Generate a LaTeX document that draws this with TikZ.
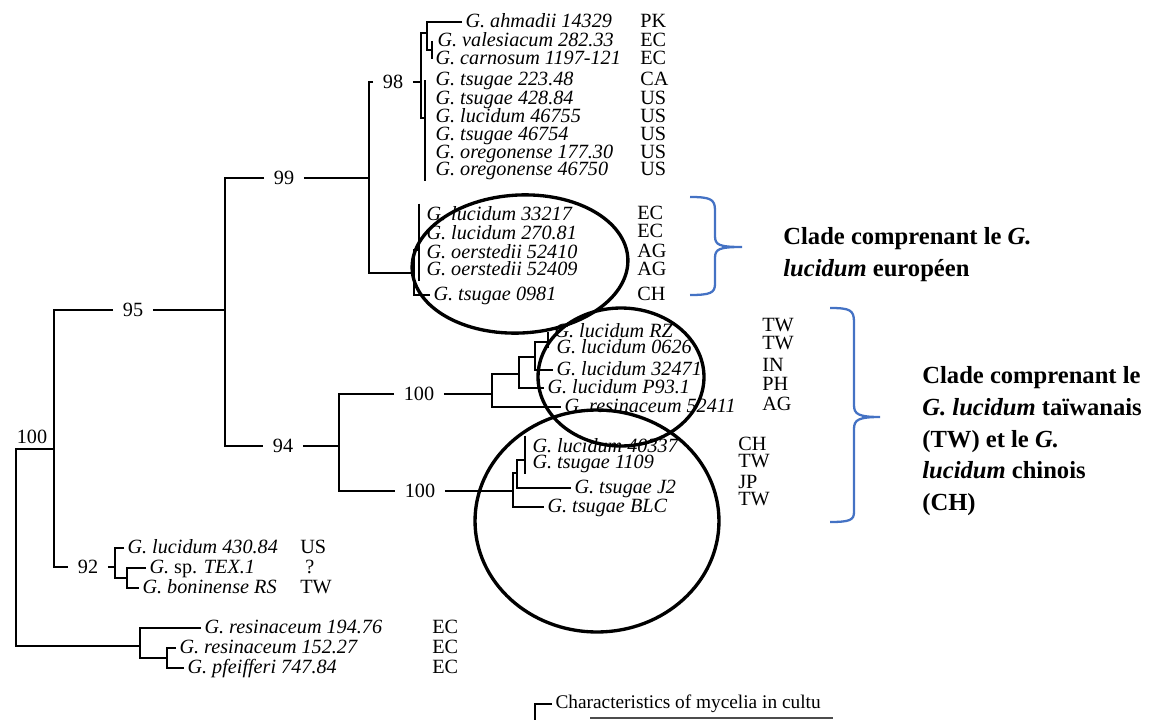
\documentclass[tikz,border=0pt]{standalone}
\usepackage{fontspec}
\setmainfont{Liberation Serif}
\definecolor{bleu}{RGB}{68,114,196}
\newcommand{\taxfont}{\fontsize{11.5pt}{13pt}\selectfont}
\newcommand{\cladefont}{\fontsize{14pt}{18.1pt}\selectfont}
\tikzset{
  every picture/.style={line join=miter},
  % branches de l'arbre
  branche/.style={line width=1.1pt},
  % feuilles et pays d'origine
  taxon/.style={anchor=west, font=\taxfont\itshape, inner sep=0pt, outer sep=2pt,
    text height=7.5pt, text depth=1.5pt},
  pays/.style={anchor=west, font=\taxfont, inner sep=0pt, text height=7.5pt, text depth=1.5pt},
  % valeurs de bootstrap, la branche s'arrete avant le chiffre
  boot/.style={font=\taxfont, inner sep=0pt, outer sep=5.5pt},
  % entourages et accolades
  cercle/.style={line width=1.9pt},
  accolade/.style={bleu, line width=1.3pt},
  clade/.style={anchor=north west, align=left, font=\cladefont\bfseries, inner sep=0pt},
}

\begin{document}
\begin{tikzpicture}[x=0.02cm, y=-0.02cm]
  \useasboundingbox (0,0) rectangle (1157,720);
  % feuilles
  \node[taxon] (ahm) at (462,22) {G. ahmadii 14329};
  \node[taxon] (val) at (434,41) {G. valesiacum 282.33};
  \node[taxon] (car) at (432,59) {G. carnosum 1197-121};
  \node[taxon] (ts1) at (432,80) {G. tsugae 223.48};
  \node[taxon] (ts2) at (432,99) {G. tsugae 428.84};
  \node[taxon] (luc1) at (432,117) {G. lucidum 46755};
  \node[taxon] (ts3) at (432,135) {G. tsugae 46754};
  \node[taxon] (ore1) at (432,153) {G. oregonense 177.30};
  \node[taxon] (ore2) at (432,170) {G. oregonense 46750};
  \node[taxon] (l33217) at (423,215) {G. lucidum 33217};
  \node[taxon] (l27081) at (423,234) {G. lucidum 270.81};
  \node[taxon] (o52410) at (423,253) {G. oerstedii 52410};
  \node[taxon] (o52409) at (423,270) {G. oerstedii 52409};
  \node[taxon] (t0981) at (430,295) {G. tsugae 0981};
  \node[taxon] (rz) at (551,332) {G. lucidum RZ};
  \node[taxon] (l0626) at (553,348) {G. lucidum 0626};
  \node[taxon] (l32471) at (553,370) {G. lucidum 32471};
  \node[taxon] (p931) at (544,388) {G. lucidum P93.1};
  \node[taxon] (r52411) at (561,407) {G. resinaceum 52411};
  \node[taxon] (l40337) at (529,447) {G. lucidum 40337};
  \node[taxon] (t1109) at (529,463) {G. tsugae 1109};
  \node[taxon] (tj2) at (571,488) {G. tsugae J2};
  \node[taxon] (tblc) at (544,507) {G. tsugae BLC};
  \node[taxon] (l43084) at (124,548) {G. lucidum 430.84};
  \node[taxon] (tex) at (146,568) {G. \textup{sp.} TEX.1};
  \node[taxon] (bon) at (139,588) {G. boninense RS};
  \node[taxon] (r19476) at (201,628) {G. resinaceum 194.76};
  \node[taxon] (r15227) at (176,648) {G. resinaceum 152.27};
  \node[taxon] (pfe) at (184,668) {G. pfeifferi 747.84};
  % pays
  \foreach \p/\y [count=\i] in {PK/22,EC/41,EC/59,CA/80,US/99,US/117,US/135,US/153,US/170}
    \node[pays] (pA\i) at (640,\y) {\p};
  \foreach \p/\y [count=\i] in {EC/214,EC/232,AG/252,AG/270,CH/295}
    \node[pays] (pB\i) at (637,\y) {\p};
  \foreach \p/\y [count=\i] in {TW/326,TW/344,IN/366,PH/385,AG/405}
    \node[pays] (pC\i) at (762,\y) {\p};
  \foreach \p/\y [count=\i] in {CH/445,TW/462,JP/483,TW/500}
    \node[pays] (pD\i) at (738,\y) {\p};
  \node[pays] (pE1) at (300,548) {US};
  \node[pays] (pE2) at (305,568) {?};
  \node[pays] (pE3) at (300,588) {TW};
  \foreach \y [count=\i] in {628,648,668}
    \node[pays] (pF\i) at (432,\y) {EC};
  % bootstrap
  \node[boot] (b98) at (393,82) {98};
  \node[boot] (b99) at (284,178) {99};
  \node[boot] (b95) at (133,310) {95};
  \node[boot] (b94) at (283,446) {94};
  \node[boot] (b100a) at (419,394) {100};
  \node[boot] (b100b) at (420,491) {100};
  \node[boot] (b92) at (88,567) {92};
  \node[boot] (b100r) at (32,437) {100};
  % noeuds internes
  \coordinate (nR) at (16,548);
  \coordinate (nA) at (54,449);
  \coordinate (n95) at (225,310);
  \coordinate (n99) at (369,178);
  \coordinate (n98) at (421,82);
  \coordinate (nAh) at (427,33);
  \coordinate (nVa) at (432,50);
  \coordinate (nTs) at (425,118);
  \coordinate (nC) at (414,273);
  \coordinate (nLu) at (419,250);
  \coordinate (n94) at (339,446);
  \coordinate (nD) at (492,394);
  \coordinate (nE) at (519,374);
  \coordinate (nF) at (535,357);
  \coordinate (nG) at (548,342);
  \coordinate (nH) at (513,491);
  \coordinate (nI) at (517,473);
  \coordinate (nJ) at (525,460);
  \coordinate (nK) at (115,567);
  \coordinate (nL) at (127,578);
  \coordinate (nM) at (140,646);
  \coordinate (nN) at (167,658);
  % branches
  \begin{scope}[branche]
    \draw (nA) -| (nR) |- (nM);
    \draw (b95.west) -| (nA) |- (b92.west);
    \draw (b95.east) -- (n95);
    \draw (b99.west) -| (n95) |- (b94.west);
    \draw (b99.east) -- (n99);
    \draw (b98.west) -| (n99) |- (nC);
    \draw (b98.east) -- (n98);
    \draw (nAh) -| (n98) |- (nTs);
    \draw (ahm.west) -| (nAh) |- (nVa);
    \draw (val.west -| nVa) -- (car.west -| nVa);
    \draw (ts1.west -| nTs) -- (ore2.south west -| nTs);
    \draw (nLu) -| (nC) |- (t0981.west);
    \draw (l33217.north west -| nLu) -- (o52409.south west -| nLu);
    \draw (b94.east) -- (n94);
    \draw (b100a.west) -| (n94) |- (b100b.west);
    \draw (b100a.east) -- (nD);
    \draw (nE) -| (nD) |- (r52411.west);
    \draw (nF) -| (nE) |- (p931.west);
    \draw (nG) -| (nF) |- (l32471.west);
    \draw (rz.west -| nG) -- (l0626.west -| nG);
    \draw (b100b.east) -- (nH);
    \draw (nI) -| (nH) |- (tblc.west);
    \draw (nJ) -| (nI) |- (tj2.west);
    \draw (l40337.north west -| nJ) -- (t1109.south west -| nJ);
    \draw (b92.east) -- (nK);
    \draw (l43084.west) -| (nK) |- (nL);
    \draw (tex.west) -| (nL) |- (bon.west);
    \draw (r19476.west) -| (nM) |- (nN);
    \draw (r15227.west) -| (nN) |- (pfe.west);
  \end{scope}
  % clades entoures
  \draw[cercle, rotate around={3:(520,264)}] (520,264) ellipse [x radius=2.16cm, y radius=1.38cm];
  \draw[cercle] (621,377) ellipse [x radius=1.66cm, y radius=1.38cm];
  \draw[cercle] (597,521) ellipse [x radius=2.44cm, y radius=2.22cm];
  % accolades
  \draw[accolade] (690,197) .. controls (710,197) and (715,199) .. (715,210) -- (715,236)
    .. controls (715,245) and (719,247) .. (742,247)
    .. controls (719,247) and (715,249) .. (715,258) -- (715,284)
    .. controls (715,293) and (710,295) .. (690,295);
  \draw[accolade] (830,308) .. controls (850,308) and (854,310) .. (854,322) -- (854,405)
    .. controls (854,414) and (858,417) .. (880,417)
    .. controls (858,417) and (854,420) .. (854,429) -- (854,512)
    .. controls (854,520) and (850,522) .. (830,522);
  \node[clade] (txtEU) at (783,227) {Clade comprenant le \textit{G.}\\\textit{lucidum} européen};
  \node[clade] (txtAS) at (922,366) {Clade comprenant le\\\textit{G. lucidum} taïwanais\\(TW) et le \textit{G.}\\\textit{lucidum} chinois\\(CH)};
  % legende coupee en bas
  \begin{scope}
    \clip (500,690) rectangle (833,720);
    \node[anchor=west, font=\fontsize{11pt}{13pt}\selectfont, inner sep=0pt, outer sep=2pt] (legende) at (552,704) {Characteristics of mycelia in cultu};
  \end{scope}
  \coordinate (coin) at (535,720);
  \draw[branche] (legende.west) -| (coin);
  \draw[line width=0.8pt, black!70] (590,718) -- (833,718);
\end{tikzpicture}
\end{document}
